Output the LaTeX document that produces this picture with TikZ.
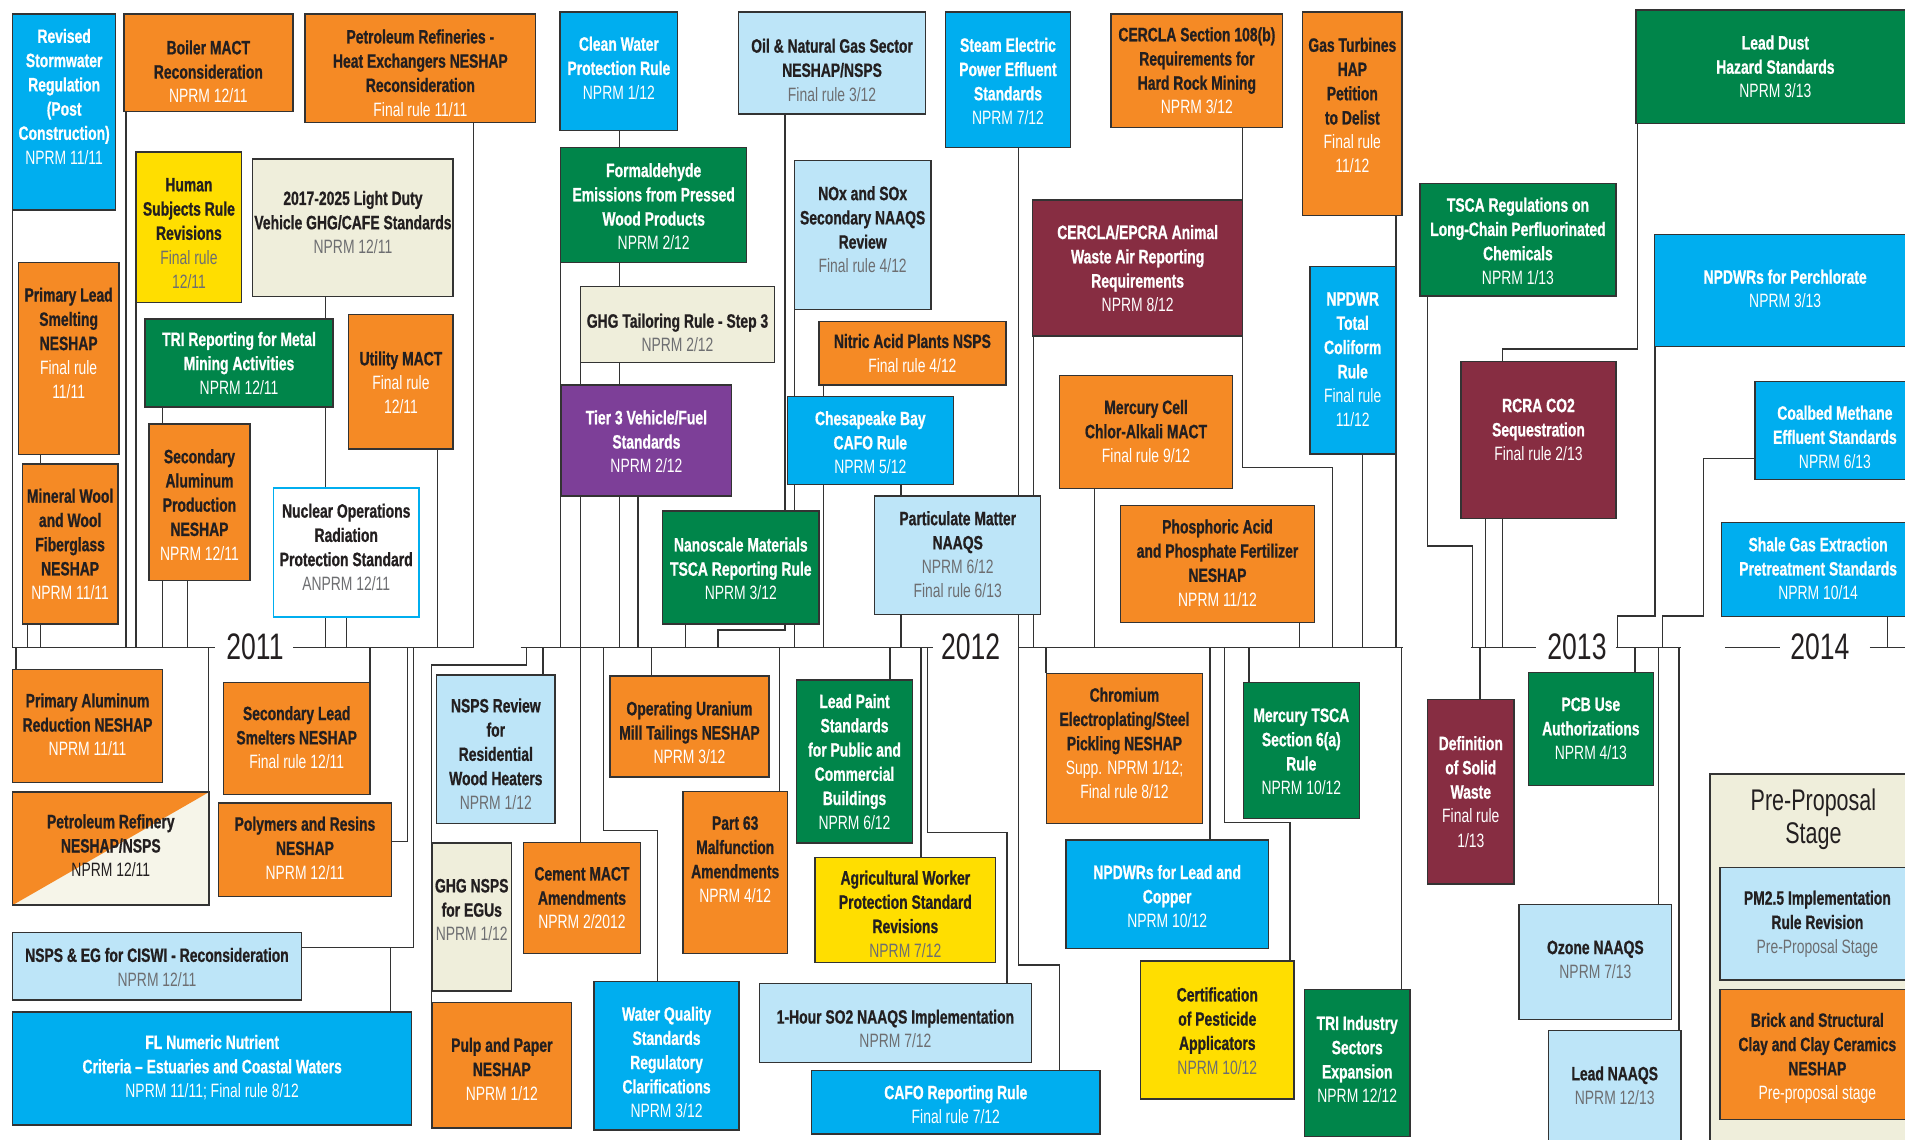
\documentclass[tikz,border=0pt]{standalone}
\usepackage{fontspec}
\setmainfont{Liberation Sans}[FakeStretch=0.72,BoldFeatures={FakeBold=0.8}]
\pgfdeclarelayer{bg}
\pgfsetlayers{bg,main}
\definecolor{cBlue}{HTML}{00AEEF}
\definecolor{cOrange}{HTML}{F58A25}
\definecolor{cGreen}{HTML}{00854A}
\definecolor{cLBlue}{HTML}{BDE5F8}
\definecolor{cBeige}{HTML}{EFEEDB}
\definecolor{cYellow}{HTML}{FFDE00}
\definecolor{cPurple}{HTML}{7D3F98}
\definecolor{cMaroon}{HTML}{872D42}
\definecolor{cLine}{HTML}{333333}
\definecolor{cDark}{HTML}{231F20}
\definecolor{cGray}{HTML}{6D6E71}
\definecolor{cPale}{HTML}{F6F5E9}
\newcommand\Dw[1]{{\mdseries\color{white}#1}}
\newcommand\Dg[1]{{\mdseries\color{cGray}#1}}
\newcommand\Dk[1]{{\mdseries\color{cDark}#1}}
\newcommand\bx[9]{%
  \node[box,#2,minimum width={(#6-#4)*0.0243cm},minimum height={(#7-#5)*0.0243cm}] (#1) at ({(#4+#6)/2},{(#5+#7)/2}) {};
  \node[txt,text=#3] (#1-t) at ({(#4+#6)/2},#8) {#9};}
\newcommand\cUp[2]{\draw[conn] (#1,0 |- #2.south) -- (#1,0 |- tl);}
\newcommand\cDn[2]{\draw[conn] (#1,0 |- tl) -- (#1,0 |- #2.north);}
\begin{document}
\begin{tikzpicture}[x=0.0243cm,y=-0.0243cm,
  box/.style={draw=cLine,line width=0.8pt,inner sep=0,rectangle},
  sB/.style={fill=cBlue}, sO/.style={fill=cOrange}, sG/.style={fill=cGreen},
  sL/.style={fill=cLBlue}, sBe/.style={fill=cBeige}, sY/.style={fill=cYellow},
  sP/.style={fill=cPurple}, sM/.style={fill=cMaroon}, sW/.style={fill=white,draw=cBlue},
  sS/.style={fill=cPale,path picture={\fill[cOrange] (path picture bounding box.north west) -- (path picture bounding box.north east) -- (path picture bounding box.south west) -- cycle;}},
  txt/.style={align=center,inner sep=0,font=\bfseries\fontsize{11}{13.8}\selectfont},
  conn/.style={draw=cLine,line width=0.8pt},
  yr/.style={font=\fontsize{21}{24}\selectfont,text=cDark,inner sep=0}]
\useasboundingbox (0,0) rectangle (1568,938);
\clip (0,0) rectangle (1568,938);
\coordinate (tl) at (0,533);
% ---------- upper boxes ----------
\bx{storm}{sB}{white}{10.4}{11.5}{95.2}{172.8}{79.5}{Revised\\Stormwater\\Regulation\\(Post\\Construction)\\\Dw{NPRM 11/11}}
\bx{boiler}{sO}{cDark}{102}{11.5}{241}{92}{59}{Boiler MACT\\Reconsideration\\\Dw{NPRM 12/11}}
\bx{petref}{sO}{cDark}{251}{11.5}{441}{101}{60}{Petroleum Refineries -\\Heat Exchangers NESHAP\\Reconsideration\\\Dw{Final rule 11/11}}
\bx{human}{sY}{cDark}{112}{125}{199}{249}{192}{Human\\Subjects Rule\\Revisions\\\Dg{Final rule}\\\Dg{12/11}}
\bx{ldv}{sBe}{cDark}{208}{131}{373}{244}{183}{2017-2025 Light Duty\\Vehicle GHG/CAFE Standards\\\Dg{NPRM 12/11}}
\bx{plead}{sO}{cDark}{15}{216}{98}{374}{282.5}{Primary Lead\\Smelting\\NESHAP\\\Dw{Final rule}\\\Dw{11/11}}
\bx{trimm}{sG}{white}{119.5}{262.5}{274}{335}{299}{TRI Reporting for Metal\\Mining Activities\\\Dw{NPRM 12/11}}
\bx{util}{sO}{cDark}{287}{259}{373}{369.6}{315}{Utility MACT\\\Dw{Final rule}\\\Dw{12/11}}
\bx{minw}{sO}{cDark}{18.4}{382}{97}{513.6}{448}{Mineral Wool\\and Wool\\Fiberglass\\NESHAP\\\Dw{NPRM 11/11}}
\bx{secal}{sO}{cDark}{122.6}{349}{205.8}{478}{415.5}{Secondary\\Aluminum\\Production\\NESHAP\\\Dw{NPRM 12/11}}
\bx{nucl}{sW}{cDark}{225}{401.6}{345}{507.7}{450.3}{Nuclear Operations\\Radiation\\Protection Standard\\\Dg{ANPRM 12/11}}
\bx{cwpr}{sB}{white}{461}{10}{557.8}{107.6}{56}{Clean Water\\Protection Rule\\\Dw{NPRM 1/12}}
\bx{oilgas}{sL}{cDark}{607.7}{10}{762}{93.8}{57.6}{Oil \& Natural Gas Sector\\NESHAP/NSPS\\\Dg{Final rule 3/12}}
\bx{formal}{sG}{white}{461.5}{121.6}{614.6}{216.2}{170}{Formaldehyde\\Emissions from Pressed\\Wood Products\\\Dw{NPRM 2/12}}
\bx{noxsox}{sL}{cDark}{653.8}{132.3}{766.3}{254.6}{189}{NOx and SOx\\Secondary NAAQS\\Review\\\Dg{Final rule 4/12}}
\bx{ghgtail}{sBe}{cDark}{478}{236}{637.3}{298.2}{274}{GHG Tailoring Rule - Step 3\\\Dg{NPRM 2/12}}
\bx{nitric}{sO}{cDark}{674}{264.8}{828}{317}{290.7}{Nitric Acid Plants NSPS\\\Dw{Final rule 4/12}}
\bx{steam}{sB}{white}{778}{10}{881.3}{121.5}{66.9}{Steam Electric\\Power Effluent\\Standards\\\Dw{NPRM 7/12}}
\bx{cer108}{sO}{cDark}{914.5}{11.5}{1055.8}{104.8}{58.2}{CERCLA Section 108(b)\\Requirements for\\Hard Rock Mining\\\Dw{NPRM 3/12}}
\bx{gasturb}{sO}{cDark}{1072.2}{10}{1154}{177.5}{86.8}{Gas Turbines\\HAP\\Petition\\to Delist\\\Dw{Final rule}\\\Dw{11/12}}
\bx{animal}{sM}{white}{850}{164.6}{1022.8}{276.6}{221}{CERCLA/EPCRA Animal\\Waste Air Reporting\\Requirements\\\Dw{NPRM 8/12}}
\bx{colif}{sB}{white}{1078.3}{219.5}{1148.5}{373.7}{296}{NPDWR\\Total\\Coliform\\Rule\\\Dw{Final rule}\\\Dw{11/12}}
\bx{leaddust}{sG}{white}{1346.6}{8.2}{1576}{101.5}{55}{Lead Dust\\Hazard Standards\\\Dw{NPRM 3/13}}
\bx{tscapf}{sG}{white}{1168.8}{151}{1330}{243.6}{198.5}{TSCA Regulations on\\Long-Chain Perfluorinated\\Chemicals\\\Dw{NPRM 1/13}}
\bx{perchl}{sB}{white}{1361.7}{192.9}{1577}{285.3}{237.8}{NPDWRs for Perchlorate\\\Dw{NPRM 3/13}}
\bx{rcra}{sM}{white}{1202.6}{297.7}{1330}{426.6}{353.7}{RCRA CO2\\Sequestration\\\Dw{Final rule 2/13}}
\bx{coalbed}{sB}{white}{1444.6}{314.2}{1576}{394.5}{359.7}{Coalbed Methane\\Effluent Standards\\\Dw{NPRM 6/13}}
\bx{shale}{sB}{white}{1417}{430.2}{1576}{507.6}{468}{Shale Gas Extraction\\Pretreatment Standards\\\Dw{NPRM 10/14}}
\bx{mcell}{sO}{cDark}{872}{309.2}{1014.6}{402}{355}{Mercury Cell\\Chlor-Alkali MACT\\\Dw{Final rule 9/12}}
\bx{phos}{sO}{cDark}{922.4}{416}{1081.8}{512.2}{463.3}{Phosphoric Acid\\and Phosphate Fertilizer\\NESHAP\\\Dw{NPRM 11/12}}
\bx{tier3}{sP}{white}{461.8}{317}{602.3}{408.3}{363.5}{Tier 3 Vehicle/Fuel\\Standards\\\Dw{NPRM 2/12}}
\bx{chesbay}{sB}{white}{648}{326.5}{784.7}{398.7}{364.2}{Chesapeake Bay\\CAFO Rule\\\Dw{NPRM 5/12}}
\bx{nano}{sG}{white}{545.5}{420.6}{674}{513.6}{468.2}{Nanoscale Materials\\TSCA Reporting Rule\\\Dw{NPRM 3/12}}
\bx{pm}{sL}{cDark}{720}{408.3}{856.6}{505.6}{456.5}{Particulate Matter\\NAAQS\\\Dg{NPRM 6/12}\\\Dg{Final rule 6/13}}
% ---------- lower boxes ----------
\bx{palum}{sO}{cDark}{10.4}{551}{133.7}{644}{596.5}{Primary Aluminum\\Reduction NESHAP\\\Dw{NPRM 11/11}}
\bx{seclead}{sO}{cDark}{183.8}{562}{304.6}{654}{607}{Secondary Lead\\Smelters NESHAP\\\Dw{Final rule 12/11}}
\bx{prefnn}{sS}{cDark}{10.4}{652}{172}{745}{696}{Petroleum Refinery\\NESHAP/NSPS\\\Dk{NPRM 12/11}}
\bx{polyres}{sO}{cDark}{180}{661}{322}{738}{698}{Polymers and Resins\\NESHAP\\\Dw{NPRM 12/11}}
\bx{ciswi}{sL}{cDark}{10.4}{767.7}{248}{823}{796}{NSPS \& EG for CISWI - Reconsideration\\\Dg{NPRM 12/11}}
\bx{flnut}{sB}{white}{10.4}{833}{338.9}{926}{878.6}{FL Numeric Nutrient\\Criteria – Estuaries and Coastal Waters\\\Dw{NPRM 11/11; Final rule 8/12}}
\bx{nspsres}{sL}{cDark}{359.4}{555.6}{456.8}{677.6}{620.6}{NSPS Review\\for\\Residential\\Wood Heaters\\\Dg{NPRM 1/12}}
\bx{ghgnsps}{sBe}{cDark}{355.6}{694}{421}{815.7}{749}{GHG NSPS\\for EGUs\\\Dg{NPRM 1/12}}
\bx{pulp}{sO}{cDark}{355.6}{825}{470.5}{928.6}{880}{Pulp and Paper\\NESHAP\\\Dw{NPRM 1/12}}
\bx{uran}{sO}{cDark}{502}{556.4}{633}{639.6}{603}{Operating Uranium\\Mill Tailings NESHAP\\\Dw{NPRM 3/12}}
\bx{cement}{sO}{cDark}{430.8}{693.6}{527.3}{784.7}{739.2}{Cement MACT\\Amendments\\\Dw{NPRM 2/2012}}
\bx{wqs}{sB}{white}{489}{808}{608.3}{930}{874.3}{Water Quality\\Standards\\Regulatory\\Clarifications\\\Dw{NPRM 3/12}}
\bx{part63}{sO}{cDark}{562}{651.6}{648.3}{784.7}{707.4}{Part 63\\Malfunction\\Amendments\\\Dw{NPRM 4/12}}
\bx{leadpaint}{sG}{white}{655.7}{559.7}{751}{694}{627}{Lead Paint\\Standards\\for Public and\\Commercial\\Buildings\\\Dw{NPRM 6/12}}
\bx{agri}{sY}{cDark}{670.8}{705.6}{819.6}{792.4}{752.3}{Agricultural Worker\\Protection Standard\\Revisions\\\Dg{NPRM 7/12}}
\bx{so2}{sL}{cDark}{625}{809.4}{849}{874.7}{846.8}{1-Hour SO2 NAAQS Implementation\\\Dg{NPRM 7/12}}
\bx{cafo}{sB}{white}{668}{881.3}{905.4}{933.4}{909}{CAFO Reporting Rule\\\Dw{Final rule 7/12}}
\bx{chrom}{sO}{cDark}{861.5}{554.2}{989.6}{677.7}{611.8}{Chromium\\Electroplating/Steel\\Pickling NESHAP\\\Dw{Supp. NPRM 1/12;}\\\Dw{Final rule 8/12}}
\bx{mtsca}{sG}{white}{1023.4}{562}{1118.8}{673.6}{618.7}{Mercury TSCA\\Section 6(a)\\Rule\\\Dw{NPRM 10/12}}
\bx{npdwrlc}{sB}{white}{877.4}{691.4}{1044}{780.6}{737.8}{NPDWRs for Lead and\\Copper\\\Dw{NPRM 10/12}}
\bx{cert}{sY}{cDark}{938.9}{791}{1065}{904.6}{848.5}{Certification\\of Pesticide\\Applicators\\\Dg{NPRM 10/12}}
\bx{triind}{sG}{white}{1073.6}{814.3}{1160.6}{935.6}{872}{TRI Industry\\Sectors\\Expansion\\\Dw{NPRM 12/12}}
\bx{defsw}{sM}{white}{1175}{575.6}{1246.2}{727.6}{651.6}{Definition\\of Solid\\Waste\\\Dw{Final rule}\\\Dw{1/13}}
\bx{pcb}{sG}{white}{1258}{553.7}{1360.8}{646.7}{599.7}{PCB Use\\Authorizations\\\Dw{NPRM 4/13}}
\bx{ozone}{sL}{cDark}{1250.3}{744.4}{1376}{839}{789.8}{Ozone NAAQS\\\Dg{NPRM 7/13}}
\bx{leadnaaqs}{sL}{cDark}{1274.5}{848.4}{1383.6}{945}{893.5}{Lead NAAQS\\\Dg{NPRM 12/13}}
\node[box,sBe,minimum width={170.5*0.0243cm},minimum height={308*0.0243cm}] (preprop) at (1492.75,791) {};
\node[align=center,inner sep=0,text=cDark,font=\fontsize{17}{18.5}\selectfont] (preprop-t) at (1492.6,674.3) {Pre-Proposal\\Stage};
\bx{pm25}{sL}{cDark}{1415.7}{714}{1576}{806.6}{760.5}{PM2.5 Implementation\\Rule Revision\\\Dg{Pre-Proposal Stage}}
\bx{brick}{sO}{cDark}{1415.7}{814.3}{1576}{921.3}{871}{Brick and Structural\\Clay and Clay Ceramics\\NESHAP\\\Dw{Pre-proposal stage}}
% ---------- years ----------
\node[yr] (y2011) at (209.9,532) {2011};
\node[yr] (y2012) at (798.9,532) {2012};
\node[yr] (y2013) at (1298,532) {2013};
\node[yr] (y2014) at (1498,532) {2014};
% ---------- connectors ----------
\begin{pgfonlayer}{bg}
\fill[white] (0,0) rectangle (1568,938);
\draw[conn] (10.4,533) -- (177,533);
\draw[conn] (241.4,533) -- (389.6,533);
\draw[conn] (428.6,533) -- (768.2,533);
\draw[conn] (838.2,533) -- (1155,533);
\draw[conn] (1210.5,533) -- (1264,533);
\draw[conn] (1330,533) -- (1384,533);
\draw[conn] (1420,533) -- (1465,533);
\draw[conn] (1539,533) -- (1568,533);
\cUp{10.4}{storm}
\cUp{33.5}{plead}
\cUp{22.8}{minw}
\cUp{103.7}{boiler}
\cUp{112}{human}
\cUp{133.6}{trimm}
\cUp{154.5}{secal}
\cUp{268}{ldv}
\cUp{285.3}{nucl}
\cUp{360.2}{util}
\cUp{389.6}{petref}
\cUp{510}{cwpr}
\cUp{461.5}{formal}
\cUp{478}{ghgtail}
\cUp{525}{tier3}
\draw[conn] (646,0 |- oilgas.south) -- (646,518.6) -- (591,518.6) -- (591,0 |- tl);
\cUp{654}{noxsox}
\cUp{678}{nitric}
\cUp{741.6}{chesbay}
\cUp{564}{nano}
\cUp{838.2}{steam}
\cUp{850.5}{animal}
\cUp{900.8}{mcell}
\draw[conn] (1022.8,0 |- cer108.south) -- (1022.8,385) -- (1097,385) -- (1097,0 |- tl);
\cUp{1069.5}{phos}
\cUp{1121.6}{colif}
\cUp{1149}{gasturb}
\draw[conn] (1175,0 |- tscapf.south) -- (1175,449.4) -- (1212,449.4) -- (1212,0 |- tl);
\draw[conn] (1348,0 |- leaddust.south) -- (1348,287.3) -- (1236.6,287.3) -- (1236.6,0 |- tl);
\cUp{1222.9}{rcra}
\draw[conn] (1362.2,0 |- perchl.south) -- (1362.2,507) -- (1331.5,507) -- (1331.5,0 |- tl);
\draw[conn] (coalbed.west |- 0,377.3) -- (1402,377.3) -- (1402,507) -- (1368.3,507) -- (1368.3,0 |- tl);
\cUp{1553.8}{shale}
\cDn{13.2}{palum}
\cDn{171.5}{prefnn}
\cDn{304.6}{seclead}
\draw[conn] (335.3,0 |- tl) -- (335.3,692.8) -- (polyres.east |- 0,692.8);
\draw[conn] (340.2,0 |- tl) -- (340.2,780) -- (ciswi.east |- 0,780);
\draw[conn] (321.6,0 |- flnut.north) -- (321.6,780);
\draw[conn] (433.5,0 |- tl) -- (433.5,547.5) -- (355.3,547.5) -- (355.3,0 |- pulp.north);
\cDn{447}{nspsres}
\cDn{478}{cement}
\draw[conn] (496.6,0 |- tl) -- (496.6,683.7) -- (541,683.7) -- (541,0 |- wqs.north);
\cDn{536.4}{uran}
\cDn{641.5}{part63}
\cDn{732.6}{leadpaint}
\cDn{758}{agri}
\draw[conn] (763.6,0 |- tl) -- (763.6,685) -- (829,685) -- (829,0 |- so2.north);
\draw[conn] (838.2,0 |- tl) -- (838.2,794.3) -- (872,794.3) -- (872,0 |- cafo.north);
\cDn{861}{chrom}
\cDn{996}{npdwrlc}
\draw[conn] (1007.8,0 |- tl) -- (1007.8,677) -- (1061.8,677) -- (1061.8,0 |- cert.north);
\cDn{1028}{mtsca}
\cDn{1153.7}{triind}
\cDn{1218.2}{defsw}
\cDn{1345.8}{pcb}
\cDn{1365}{ozone}
\cDn{1382}{leadnaaqs}
\end{pgfonlayer}
\end{tikzpicture}
\end{document}
